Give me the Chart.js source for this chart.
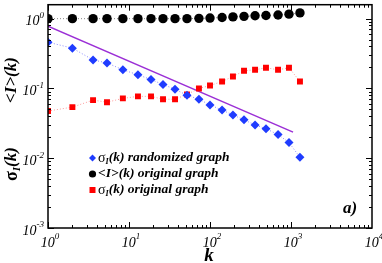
<!DOCTYPE html>
<html>
<head>
<meta charset="utf-8">
<script src="https://cdn.jsdelivr.net/npm/chart.js@4/dist/chart.umd.min.js"></script>
<style>
  body { margin: 0; background: #fff; }
  canvas { display: block; }
</style>
</head>
<body>
<canvas id="chart" width="382" height="263"></canvas>
<script>
// Degree bins k (log binned)
const kValues = [1, 2, 3.6, 5.35, 8.4, 12.9, 18.7, 26.3, 37, 52, 73, 100, 141, 192, 263, 360, 491, 692, 944, 1290];

// <I>(k) original graph
const meanIOriginal = [1.0, 1.0, 1.0, 1.0, 1.0, 1.0, 1.0, 1.0, 1.0, 1.0, 1.01, 1.02, 1.04, 1.06, 1.08, 1.1, 1.11, 1.13, 1.16, 1.21];

// sigma_I(k) randomized graph
const sigmaRandomized = [0.46, 0.378, 0.256, 0.232, 0.185, 0.157, 0.134, 0.114, 0.097, 0.080, 0.070, 0.058, 0.049, 0.0417, 0.0355, 0.030, 0.0265, 0.0218, 0.0168, 0.0103];

// sigma_I(k) original graph
const sigmaOriginal = [0.0474, 0.054, 0.068, 0.0635, 0.072, 0.077, 0.077, 0.070, 0.070, 0.082, 0.100, 0.110, 0.126, 0.148, 0.179, 0.185, 0.198, 0.185, 0.198, 0.126];

// power-law guide line (~ k^-1/2)
const fitK = [1, 1060];
const fitValues = [0.78, 0.0237];

// tick labels (decade exponents)
const xExponents = [0, 1, 2, 3, 4];
const yExponents = [0, -1, -2, -3];

const SERIF = '"Liberation Serif", "DejaVu Serif", serif';

function toPoints(xs, ys) {
  return xs.map((x, i) => ({ x: x, y: ys[i] }));
}

// draw a run of text pieces (for sub/superscripts)
function drawRuns(ctx, runs, x, y, align) {
  let total = 0;
  runs.forEach(r => { ctx.font = r.font; total += ctx.measureText(r.t).width; });
  let cx = x;
  if (align === 'center') cx = x - total / 2;
  if (align === 'right') cx = x - total;
  ctx.textAlign = 'left';
  ctx.textBaseline = 'middle';
  runs.forEach(r => {
    ctx.font = r.font;
    ctx.fillText(r.t, cx, y + (r.dy || 0));
    cx += ctx.measureText(r.t).width;
  });
}

function powerLabel(exp) {
  return [
    { t: '10', font: 'italic 14px ' + SERIF },
    { t: String(exp), font: 'italic 9px ' + SERIF, dy: -6 }
  ];
}

const decorations = {
  id: 'decorations',
  afterDraw(chart) {
    const { ctx, chartArea: a, scales: { x, y } } = chart;
    ctx.save();
    ctx.strokeStyle = '#000';
    ctx.fillStyle = '#000';

    // frame
    ctx.lineWidth = 1.5;
    ctx.strokeRect(a.left, a.top, a.right - a.left, a.bottom - a.top);

    // inward ticks on all four sides
    ctx.lineWidth = 1;
    ctx.beginPath();
    for (let e = 0; e < 4; e++) {
      for (let m = 1; m <= 9; m++) {
        const v = m * Math.pow(10, e);
        const px = Math.round(x.getPixelForValue(v)) + 0.5;
        const len = m === 1 ? 6 : 3;
        ctx.moveTo(px, a.bottom); ctx.lineTo(px, a.bottom - len);
        ctx.moveTo(px, a.top); ctx.lineTo(px, a.top + len);
      }
    }
    for (let e = -3; e < 1; e++) {
      for (let m = 1; m <= 9; m++) {
        const v = m * Math.pow(10, e);
        if (v > y.max) continue;
        const py = Math.round(y.getPixelForValue(v)) + 0.5;
        const len = m === 1 ? 6 : 3;
        ctx.moveTo(a.left, py); ctx.lineTo(a.left + len, py);
        ctx.moveTo(a.right, py); ctx.lineTo(a.right - len, py);
      }
    }
    ctx.stroke();

    // tick labels
    xExponents.forEach(e => {
      const px = x.getPixelForValue(Math.pow(10, e));
      drawRuns(ctx, powerLabel(e), px + 2, a.bottom + 15, 'center');
    });
    yExponents.forEach(e => {
      const py = y.getPixelForValue(Math.pow(10, e));
      drawRuns(ctx, powerLabel(e), a.left - 4, py + 3, 'right');
    });

    // axis titles
    drawRuns(ctx, [{ t: 'k', font: 'bold italic 19px ' + SERIF }], 209, 256, 'center');

    const titleFont = 'bold italic 17px ' + SERIF;
    ctx.save();
    ctx.translate(12, 80);
    ctx.rotate(-Math.PI / 2);
    drawRuns(ctx, [{ t: '<I>(k)', font: titleFont }], 0, 0, 'center');
    ctx.restore();

    ctx.save();
    ctx.translate(12, 164);
    ctx.rotate(-Math.PI / 2);
    drawRuns(ctx, [
      { t: 'σ', font: 'bold 18px ' + SERIF },
      { t: 'I', font: 'bold italic 11px ' + SERIF, dy: 5 },
      { t: '(k)', font: titleFont }
    ], 0, 0, 'center');
    ctx.restore();

    // panel label
    drawRuns(ctx, [{ t: 'a)', font: 'bold italic 17px ' + SERIF }], 350, 209, 'center');

    // legend
    const lf = 'bold italic 13.5px ' + SERIF;
    const sg = '14px ' + SERIF;
    const sub = 'bold italic 8px ' + SERIF;
    const rows = [
      { ds: 0, runs: [{ t: 'σ', font: sg }, { t: 'I', font: sub, dy: 4 }, { t: '(k) randomized graph', font: lf }] },
      { ds: 1, runs: [{ t: '<I>(k) original graph', font: lf }] },
      { ds: 2, runs: [{ t: 'σ', font: sg }, { t: 'I', font: sub, dy: 4 }, { t: '(k) original graph', font: lf }] }
    ];
    rows.forEach((row, i) => {
      const ly = 158 + i * 16;
      const mx = 92.5;
      const d = chart.data.datasets[row.ds];
      ctx.fillStyle = d.pointBackgroundColor;
      ctx.beginPath();
      if (d.pointStyle === 'rectRot') {
        ctx.moveTo(mx, ly - 3.5); ctx.lineTo(mx + 3.5, ly); ctx.lineTo(mx, ly + 3.5); ctx.lineTo(mx - 3.5, ly);
        ctx.closePath();
      } else if (d.pointStyle === 'rect') {
        ctx.rect(mx - 3, ly - 3, 6, 6);
      } else {
        ctx.arc(mx, ly, 3.6, 0, Math.PI * 2);
      }
      ctx.fill();
      ctx.fillStyle = '#000';
      drawRuns(ctx, row.runs, 98, ly, 'left');
    });

    ctx.restore();
  }
};

new Chart(document.getElementById('chart'), {
  type: 'scatter',
  data: {
    datasets: [
      {
        label: 'σI(k) randomized graph',
        data: toPoints(kValues, sigmaRandomized),
        showLine: true,
        borderColor: '#8c8cff',
        borderWidth: 1,
        borderDash: [1, 2],
        pointStyle: 'rectRot',
        pointRadius: 4.5,
        pointBackgroundColor: '#1f3cff',
        pointBorderWidth: 0
      },
      {
        label: '<I>(k) original graph',
        data: toPoints(kValues, meanIOriginal),
        showLine: true,
        borderColor: '#888888',
        borderWidth: 1,
        borderDash: [1, 2],
        pointStyle: 'circle',
        pointRadius: 4.7,
        pointBackgroundColor: '#000000',
        pointBorderWidth: 0
      },
      {
        label: 'σI(k) original graph',
        data: toPoints(kValues, sigmaOriginal),
        showLine: true,
        borderColor: '#ff9a9a',
        borderWidth: 1,
        borderDash: [1, 2],
        pointStyle: 'rect',
        pointRadius: 4.2,
        pointBackgroundColor: '#ff0000',
        pointBorderWidth: 0
      },
      {
        label: 'fit',
        data: toPoints(fitK, fitValues),
        showLine: true,
        borderColor: '#9b2fd6',
        borderWidth: 1.4,
        pointRadius: 0
      }
    ]
  },
  options: {
    responsive: false,
    animation: false,
    layout: { padding: { top: 1, right: 10, left: 0, bottom: 0 } },
    plugins: {
      legend: { display: false },
      tooltip: { enabled: false }
    },
    scales: {
      x: {
        type: 'logarithmic',
        min: 1,
        max: 10000,
        grid: { display: false },
        border: { display: false },
        ticks: { display: false },
        afterFit(scale) { scale.height = 35; }
      },
      y: {
        type: 'logarithmic',
        min: 0.001,
        max: 1.585,
        grid: { display: false },
        border: { display: false },
        ticks: { display: false },
        afterFit(scale) { scale.width = 48; }
      }
    }
  },
  plugins: [decorations]
});
</script>
</body>
</html>
